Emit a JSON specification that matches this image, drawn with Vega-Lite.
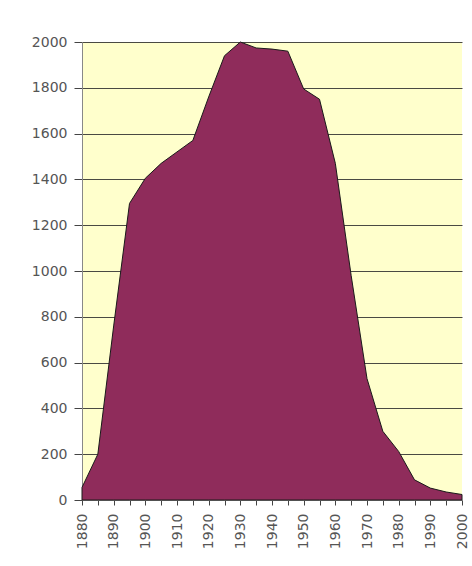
{
  "$schema": "https://vega.github.io/schema/vega-lite/v6.json",
  "width": 380,
  "height": 458,
  "autosize": {"type": "none"},
  "padding": {"left": 82, "top": 42, "right": 10, "bottom": 66},
  "background": "white",
  "data": {"values": [
    {"year": 1880, "value": 55},
    {"year": 1885, "value": 200},
    {"year": 1890, "value": 760},
    {"year": 1895, "value": 1295},
    {"year": 1900, "value": 1405},
    {"year": 1905, "value": 1470},
    {"year": 1910, "value": 1520},
    {"year": 1915, "value": 1570},
    {"year": 1920, "value": 1760},
    {"year": 1925, "value": 1940},
    {"year": 1930, "value": 2000},
    {"year": 1935, "value": 1974},
    {"year": 1940, "value": 1969},
    {"year": 1945, "value": 1960},
    {"year": 1950, "value": 1795},
    {"year": 1955, "value": 1750},
    {"year": 1960, "value": 1470},
    {"year": 1965, "value": 980},
    {"year": 1970, "value": 530},
    {"year": 1975, "value": 300},
    {"year": 1980, "value": 212},
    {"year": 1985, "value": 88},
    {"year": 1990, "value": 52},
    {"year": 1995, "value": 35},
    {"year": 2000, "value": 24}
  ]},
  "config": {
    "view": {"fill": "#FFFFCC", "stroke": null},
    "axis": {"labelFont": "DejaVu Sans", "labelFontSize": 14, "labelColor": "#555555", "domainColor": "#888888", "tickColor": "#444444"}
  },
  "mark": {"type": "area", "color": "#8F2C5B", "stroke": "#1a1a1a", "strokeWidth": 1, "fillOpacity": 1, "interpolate": "linear"},
  "encoding": {
    "x": {
      "field": "year", "type": "quantitative",
      "scale": {"domain": [1880, 2000], "nice": false, "zero": false},
      "axis": {
        "title": null, "grid": false,
        "values": [1880,1885,1890,1895,1900,1905,1910,1915,1920,1925,1930,1935,1940,1945,1950,1955,1960,1965,1970,1975,1980,1985,1990,1995,2000],
        "labelExpr": "datum.value % 10 == 0 ? datum.value + '' : ''",
        "labelAngle": 270, "labelAlign": "right", "labelBaseline": "middle",
        "tickSize": 5, "labelPadding": 8, "labelOverlap": false, "labelFlush": false
      }
    },
    "y": {
      "field": "value", "type": "quantitative",
      "scale": {"domain": [0, 2000], "nice": false},
      "axis": {
        "title": null, "values": [0,200,400,600,800,1000,1200,1400,1600,1800,2000],
        "grid": true, "gridColor": "#2a2a2a", "gridWidth": 1.2, "gridOpacity": 0.85,
        "tickSize": 8, "labelPadding": 7, "format": "d"
      }
    }
  }
}
